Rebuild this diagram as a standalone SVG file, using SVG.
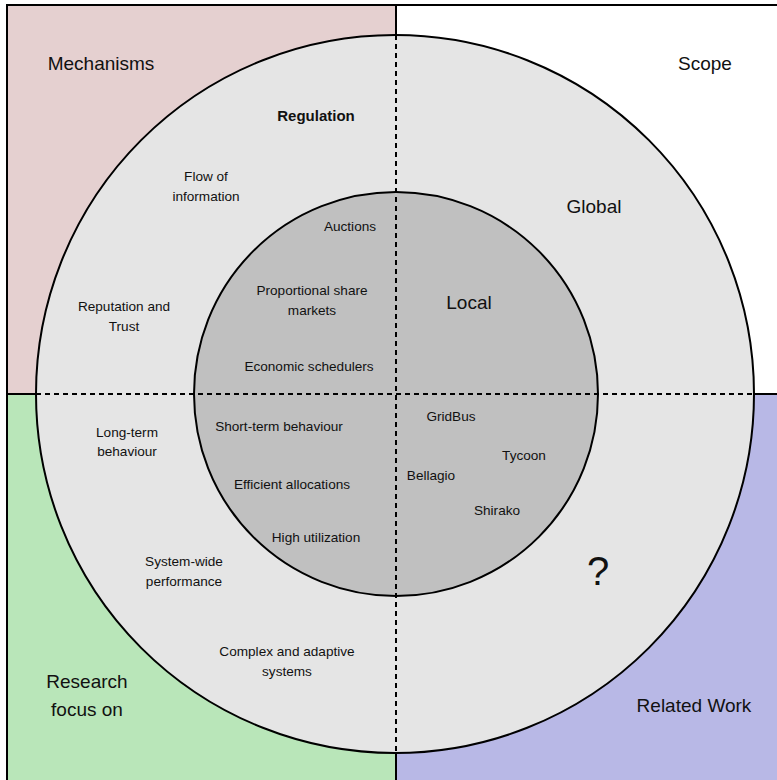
<svg xmlns="http://www.w3.org/2000/svg" width="777" height="780" viewBox="0 0 777 780">
<style>
text{font-family:"Liberation Sans",Arial,sans-serif;fill:#111;text-anchor:middle}
.big{font-size:19px}
.sm{font-size:13.6px}
.edge{stroke:#000;stroke-width:2;fill:none}
.dash{stroke:#000;stroke-width:2;stroke-dasharray:5,4;fill:none}
</style>
<g id="quadrants">
<rect x="7" y="5" width="389" height="389" fill="#e5d0d0"/>
<rect x="396" y="5" width="385" height="389" fill="#ffffff"/>
<rect x="7" y="394" width="389" height="390" fill="#b9e6b9"/>
<rect x="396" y="394" width="385" height="390" fill="#b8b8e6"/>
<path class="edge" d="M7,790 V5 H790"/>
<path class="edge" d="M396,5 V35 M396,753 V790 M7,394 H36 M754,394 H790"/>
</g>
<g id="outer-circle">
<circle cx="395" cy="394" r="359" fill="#e5e5e5" stroke="#000" stroke-width="2"/>
</g>
<g id="inner-circle">
<circle cx="396" cy="394" r="202" fill="#c0c0c0" stroke="#000" stroke-width="2"/>
</g>
<g id="connectors">
<path class="dash" d="M396,35 V753"/>
<path class="dash" d="M36,394 H754"/>
</g>
<g id="labels-quadrants">
<text class="big" x="101" y="70">Mechanisms</text>
<text class="big" x="705" y="70">Scope</text>
<text class="big" x="87" y="688">Research</text>
<text class="big" x="87" y="716">focus on</text>
<text class="big" x="694" y="712">Related Work</text>
</g>
<g id="labels-outer">
<text x="316" y="121" style="font-size:15px;font-weight:bold">Regulation</text>
<text class="sm" x="206" y="181">Flow of</text>
<text class="sm" x="206" y="201">information</text>
<text class="sm" x="124" y="311">Reputation and</text>
<text class="sm" x="124" y="331">Trust</text>
<text class="big" x="594" y="213">Global</text>
<text class="sm" x="127" y="437">Long-term</text>
<text class="sm" x="127" y="456">behaviour</text>
<text class="sm" x="184" y="566">System-wide</text>
<text class="sm" x="184" y="586">performance</text>
<text class="sm" x="287" y="656">Complex and adaptive</text>
<text class="sm" x="287" y="676">systems</text>
<text x="598" y="585" style="font-size:40px">?</text>
</g>
<g id="labels-inner">
<text class="sm" x="350" y="231">Auctions</text>
<text class="sm" x="312" y="295">Proportional share</text>
<text class="sm" x="312" y="315">markets</text>
<text class="sm" x="309" y="371">Economic schedulers</text>
<text class="big" x="469" y="309">Local</text>
<text class="sm" x="279" y="431">Short-term behaviour</text>
<text class="sm" x="292" y="489">Efficient allocations</text>
<text class="sm" x="316" y="542">High utilization</text>
<text class="sm" x="451" y="421">GridBus</text>
<text class="sm" x="524" y="460">Tycoon</text>
<text class="sm" x="431" y="480">Bellagio</text>
<text class="sm" x="497" y="515">Shirako</text>
</g>
</svg>
